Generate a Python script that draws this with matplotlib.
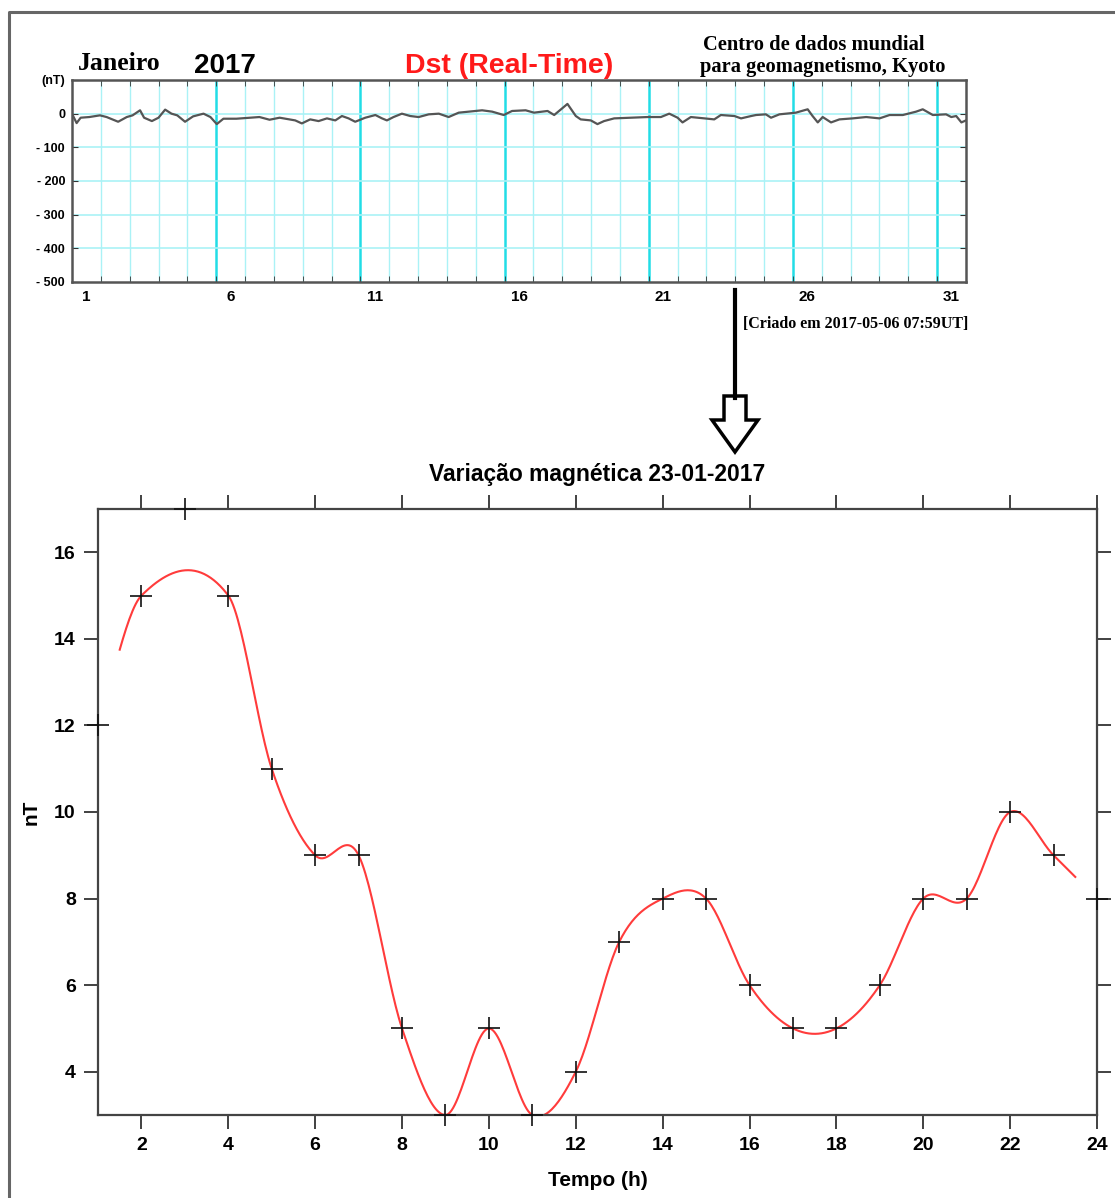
import numpy as np
import matplotlib
matplotlib.use('Agg')
import matplotlib.pyplot as plt
from matplotlib.patches import FancyArrow

# Dst (real time), January 2017 - time in days since Jan 1 00:00, value in nT
dst_day = [0.0, 0.16, 0.3, 0.6, 0.97, 1.2, 1.6, 1.9, 2.1, 2.36, 2.5, 2.77, 3.0,
           3.23, 3.45, 3.65, 3.92, 4.2, 4.56, 4.8, 5.02, 5.25, 5.7, 6.18, 6.5,
           6.85, 7.2, 7.74, 7.97, 8.26, 8.55, 8.84, 9.13, 9.36, 9.59, 9.82,
           10.17, 10.52, 10.75, 10.92, 11.15, 11.44, 11.73, 12.02, 12.37, 12.72,
           13.06, 13.41, 13.76, 14.22, 14.57, 14.97, 15.26, 15.73, 16.02, 16.49,
           16.72, 17.0, 17.18, 17.47, 17.64, 17.99, 18.22, 18.45, 18.8, 19.38,
           19.96, 20.42, 20.71, 21.0, 21.17, 21.46, 21.93, 22.27, 22.5, 22.97,
           23.2, 23.55, 23.72, 24.06, 24.24, 24.53, 25.1, 25.51, 25.68, 25.86,
           26.03, 26.32, 26.61, 27.07, 27.54, 28.0, 28.35, 28.81, 29.27, 29.5,
           29.85, 30.31, 30.49, 30.66, 30.84, 31.0]
dst_nt = [0, -28, -12, -10, -5, -10, -24, -10, -5, 10, -12, -22, -12,
          12, 0, -5, -24, -8, 0, -10, -31, -15, -15, -12, -10,
          -18, -12, -20, -29, -17, -22, -14, -20, -7, -14, -24,
          -12, -4, -14, -20, -10, 0, -7, -10, -2, 0,
          -10, 3, 6, 10, 6, -4, 8, 10, 3, 8,
          -4, 16, 29, -7, -17, -20, -31, -22, -14, -12,
          -10, -10, 0, -12, -26, -10, -14, -17, -4, -7,
          -14, -7, -4, -2, -12, -2, 3, 13, -7, -26,
          -10, -26, -17, -14, -10, -14, -4, -4, 6, 13,
          -4, -2, -10, -7, -26, -20]

# hourly variation on 23-01-2017
hours = np.arange(1, 25)
var_nt = np.array([12, 15, 17, 15, 11, 9, 9, 5, 3, 5, 3, 4, 7, 8, 8, 6,
                   5, 5, 6, 8, 8, 10, 9, 8])

day_labels = ['1', '6', '11', '16', '21', '26', '31']
dst_yticks = [100, 0, -100, -200, -300, -400, -500]
dst_ylabels = ['(nT)', '0', '- 100', '- 200', '- 300', '- 400', '- 500']


def catmull_rom(x, y, xs):
    # cubic Hermite with central-difference tangents
    n = len(x)
    m = np.empty(n)
    m[1:-1] = (y[2:] - y[:-2]) / (x[2:] - x[:-2])
    m[0] = (y[1] - y[0]) / (x[1] - x[0])
    m[-1] = (y[-1] - y[-2]) / (x[-1] - x[-2])
    idx = np.clip(np.searchsorted(x, xs, side='right') - 1, 0, n - 2)
    h = x[idx + 1] - x[idx]
    t = (xs - x[idx]) / h
    h00 = 2 * t ** 3 - 3 * t ** 2 + 1
    h10 = t ** 3 - 2 * t ** 2 + t
    h01 = -2 * t ** 3 + 3 * t ** 2
    h11 = t ** 3 - t ** 2
    return h00 * y[idx] + h10 * h * m[idx] + h01 * y[idx + 1] + h11 * h * m[idx + 1]


W, H = 1115, 1198
fig = plt.figure(figsize=(W / 100, H / 100), dpi=100)

# overlay in pixel coordinates for frame, arrow and header texts
ov = fig.add_axes([0, 0, 1, 1])
ov.set_xlim(0, W)
ov.set_ylim(H, 0)
ov.axis('off')
ov.patch.set_alpha(0)
ov.plot([9, 9, W], [H, 12, 12], color='#666666', lw=2.2)
ov.plot([735, 735], [290, 398], color='black', lw=3)
ov.add_patch(FancyArrow(735, 396, 0, 56, width=22, head_width=46, head_length=32,
                        length_includes_head=True, fc='white', ec='black', lw=2.5))

serif = ['Liberation Serif', 'DejaVu Serif']
sans = ['Liberation Sans', 'DejaVu Sans']
ov.text(78, 64, 'Janeiro', family=serif, weight='bold', fontsize=18.5, va='center', ha='left')
ov.text(194, 66, '2017', family=sans, weight='bold', fontsize=20, va='center', ha='left')
ov.text(405, 66, 'Dst (Real-Time)', family=sans, weight='bold', fontsize=20.5,
        color='#ff1a1a', va='center', ha='left')
ov.text(703, 45, 'Centro de dados mundial', family=serif, weight='bold', fontsize=14.8,
        va='center', ha='left')
ov.text(700, 67, 'para geomagnetismo, Kyoto', family=serif, weight='bold', fontsize=14.8,
        va='center', ha='left')
ov.text(968, 324, '[Criado em 2017-05-06 07:59UT]', family=serif, weight='bold',
        fontsize=11.5, va='center', ha='right')

# monthly Dst panel
ax1 = fig.add_axes([72 / W, (H - 282) / H, (966 - 72) / W, (282 - 80) / H])
ax1.set_xlim(0, 31)
ax1.set_ylim(-500, 100)
for d in range(1, 31):
    if d % 5 == 0:
        ax1.axvline(d, color='#22dde6', lw=1.8, zorder=1)
    else:
        ax1.axvline(d, color='#aaf2f6', lw=1.0, zorder=1)
for v in dst_yticks[1:-1]:
    ax1.axhline(v, color='#aaf2f6', lw=1.2, zorder=1)
ax1.plot(dst_day, dst_nt, color='#555555', lw=1.6, zorder=3)
ax1.set_xticks(np.arange(0.5, 31, 5))
ax1.set_xticklabels(day_labels, fontsize=11, fontweight='bold', family=sans)
ax1.set_xticks(np.arange(1, 31), minor=True)
ax1.tick_params(axis='x', which='major', length=0, pad=6)
ax1.tick_params(axis='x', which='minor', direction='in', length=4, top=True, bottom=True,
                color='#333333')
ax1.set_yticks(dst_yticks)
ax1.set_yticklabels(dst_ylabels, fontsize=9, fontweight='bold', family=sans)
ax1.tick_params(axis='y', direction='in', length=4, left=True, right=True, pad=5,
                color='#333333')
for s in ax1.spines.values():
    s.set_color('#555555')
    s.set_linewidth(1.8)

# hourly variation panel, smooth curve through the hourly points (hour 3 left out)
ax2 = fig.add_axes([98 / W, (H - 1115) / H, (1097 - 98) / W, (1115 - 509) / H])
ax2.set_xlim(1, 24)
ax2.set_ylim(3, 17)
fit = hours != 3
xs = np.linspace(1.5, 23.5, 600)
ax2.plot(xs, catmull_rom(hours[fit].astype(float), var_nt[fit].astype(float), xs),
         color='#ff3b3b', lw=1.5, zorder=2)
ax2.plot(hours, var_nt, ls='none', marker='+', ms=16, mew=1.2, color='#111111',
         clip_on=False, zorder=3)
ax2.set_xticks(np.arange(2, 25, 2))
ax2.set_yticks(np.arange(4, 17, 2))
ax2.tick_params(direction='out', length=10, width=1.3, top=True, right=True,
                labelsize=14, color='#333333', pad=6)
for lab in ax2.get_xticklabels() + ax2.get_yticklabels():
    lab.set_fontweight('bold')
    lab.set_family(sans)
ax2.set_xlabel('Tempo (h)', fontsize=15, fontweight='bold', family=sans, labelpad=12)
ax2.set_ylabel('nT', fontsize=15, fontweight='bold', family=sans, labelpad=10)
ax2.set_title('Variação magnética 23-01-2017', fontsize=16.5, fontweight='bold',
              family=sans, pad=20)
for s in ax2.spines.values():
    s.set_color('#444444')
    s.set_linewidth(1.6)

fig.savefig('out.png', dpi=100)
